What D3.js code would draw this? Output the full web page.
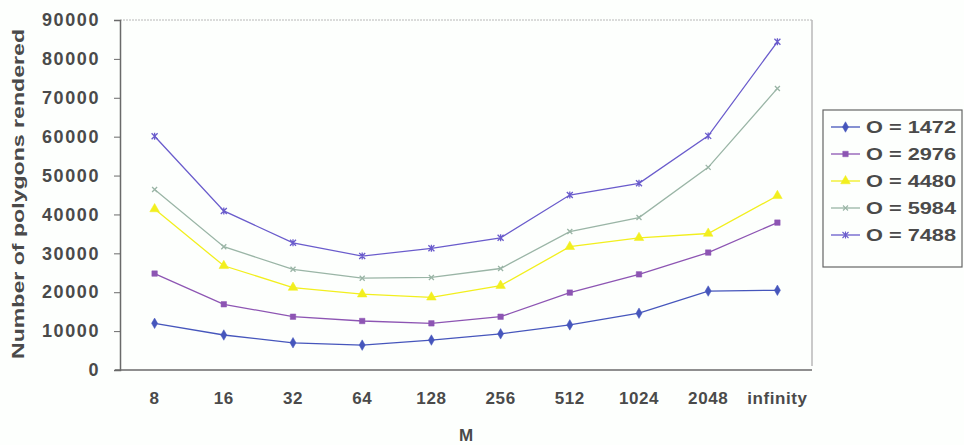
<!DOCTYPE html>
<html><head><meta charset="utf-8">
<script src="https://cdn.jsdelivr.net/npm/d3@7"></script>
<style>
body{margin:0;background:#fdfffd;}
text{font-family:"Liberation Sans",Arial,sans-serif;font-weight:bold;fill:#4a4a4a;}
</style></head>
<body><svg id="c" width="964" height="445"></svg>
<script>
const categories = ["8","16","32","64","128","256","512","1024","2048","infinity"];
const seriesNames = ["O = 1472","O = 2976","O = 4480","O = 5984","O = 7488"];
const s1472 = [12000, 9000, 7000, 6400, 7700, 9300, 11600, 14600, 20300, 20500];
const s2976 = [24800, 16900, 13700, 12600, 12000, 13700, 19900, 24600, 30200, 37900];
const s4480 = [41400, 26800, 21200, 19500, 18700, 21700, 31700, 34000, 35100, 44800];
const s5984 = [46400, 31700, 25900, 23600, 23800, 26100, 35600, 39200, 52100, 72400];
const s7488 = [60100, 40900, 32700, 29300, 31300, 34000, 45000, 48000, 60200, 84400];
const yTicks = [0,10000,20000,30000,40000,50000,60000,70000,80000,90000];
const colors = ["#4656bc","#8d55b3","#f2ef1e","#9ab5a6","#6a5ccc"];
const markers = ["diamond","square","triangle","x","star"];
const allSeries = [s1472,s2976,s4480,s5984,s7488];

const svg = d3.select("#c");
const L=120, R=812, T=20, B=370;
const x = d3.scaleBand().domain(categories).range([L,R]);
const y = d3.scaleLinear().domain([0,90000]).range([B,T]);

// plot frame
svg.append("line").attr("x1",L).attr("x2",R).attr("y1",T).attr("y2",T).attr("stroke","#b8b8b8").attr("stroke-dasharray","2,1");
svg.append("line").attr("x1",R).attr("x2",R).attr("y1",T).attr("y2",B-4).attr("stroke","#b8b8b8").attr("stroke-width",1.5);

// y axis
const ya = svg.append("g").attr("transform",`translate(${L},0)`)
  .call(d3.axisLeft(y).tickValues(yTicks).tickSize(6).tickPadding(14).tickFormat(d3.format("d")));
ya.select(".domain").attr("stroke","#6a6a6a").attr("stroke-width",1.5);
ya.selectAll(".tick line").attr("stroke","#6a6a6a");
ya.selectAll("text").attr("font-size",18).attr("letter-spacing","1.6px").style("font-family","Liberation Sans,Arial").style("font-weight","bold").attr("fill","#4a4a4a");

// x axis
const xa = svg.append("g").attr("transform",`translate(0,${B})`)
  .call(d3.axisBottom(x).tickSize(0).tickPadding(22));
xa.select(".domain").attr("stroke","#6a6a6a").attr("stroke-width",1.5).attr("d",`M${L-5},0H${R}`);
xa.selectAll("text").attr("font-size",17).attr("letter-spacing","0.6px").style("font-family","Liberation Sans,Arial").style("font-weight","bold").attr("fill","#4a4a4a");

// titles
svg.append("text").attr("transform",`translate(24,${(T+352)/2+8}) rotate(-90)`).attr("text-anchor","middle")
  .attr("font-size",17).attr("textLength",330).attr("lengthAdjust","spacingAndGlyphs").text("Number of polygons rendered");
svg.append("text").attr("x",(L+R)/2).attr("y",441).attr("text-anchor","middle").attr("font-size",17).text("M");

function markerPath(type){
  switch(type){
    case "diamond": return d3.symbol(d3.symbolDiamond, 32)();
    case "square": return d3.symbol(d3.symbolSquare, 30)();
    case "triangle": return d3.symbol(d3.symbolTriangle, 40)();
    case "x": return "M-2.5,-2.5L2.5,2.5M-2.5,2.5L2.5,-2.5";
    case "star": return "M-3,-3L3,3M-3,3L3,-3M0,-3.5L0,3.5";
  }
}

const line = d3.line().x((d,i)=>x(categories[i])+x.bandwidth()/2).y(d=>y(d));
allSeries.forEach((vals,si)=>{
  const g = svg.append("g");
  g.append("path").attr("d",line(vals)).attr("fill","none").attr("stroke",colors[si]).attr("stroke-width",1.3);
  g.selectAll("path.m").data(vals).enter().append("path").attr("class","m")
    .attr("transform",(d,i)=>`translate(${x(categories[i])+x.bandwidth()/2},${y(d)})`)
    .attr("d",markerPath(markers[si]))
    .attr("fill",(markers[si]==="x"||markers[si]==="star")?"none":colors[si])
    .attr("stroke",colors[si]).attr("stroke-width",(markers[si]==="x"||markers[si]==="star")?1.3:0.5);
});

// legend
const lg = svg.append("g");
lg.append("rect").attr("x",823).attr("y",110).attr("width",139).attr("height",157).attr("fill","none").attr("stroke","#666").attr("stroke-width",1.2);
seriesNames.forEach((n,i)=>{
  const cy = 127 + i*27;
  lg.append("line").attr("x1",831).attr("x2",860).attr("y1",cy).attr("y2",cy).attr("stroke",colors[i]).attr("stroke-width",1.3);
  lg.append("path").attr("transform",`translate(845.5,${cy})`).attr("d",markerPath(markers[i]))
    .attr("fill",(markers[i]==="x"||markers[i]==="star")?"none":colors[i]).attr("stroke",colors[i]).attr("stroke-width",(markers[i]==="x"||markers[i]==="star")?1.1:0.5);
  lg.append("text").attr("x",866).attr("y",cy+6).attr("font-size",17).attr("textLength",90).attr("lengthAdjust","spacingAndGlyphs").text(n);
});
</script></body></html>
